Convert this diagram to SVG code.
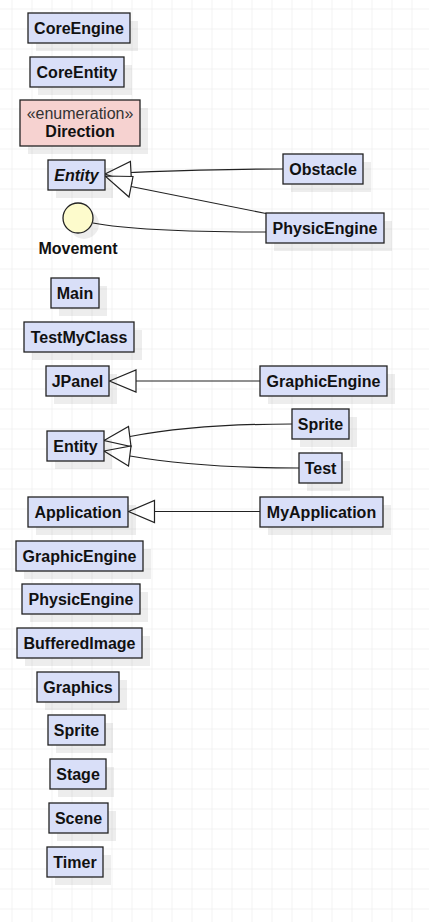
<svg xmlns="http://www.w3.org/2000/svg" width="429" height="922" viewBox="0 0 429 922">
<defs>
<pattern id="grid" x="11.5" y="8.5" width="20" height="20" patternUnits="userSpaceOnUse">
<path d="M0,0 H20 M0,0 V20" fill="none" stroke="#e8e8e8" stroke-width="1"/>
</pattern>
</defs>
<style>
.box{fill:#d9dff8;stroke:#222;stroke-width:1.3}
.enum{fill:#f6d2d0;stroke:#222;stroke-width:1.3}
.sh{fill:#000;fill-opacity:0.07;stroke:none}
.t{font-family:"Liberation Sans",Arial,sans-serif;font-size:16px;font-weight:bold;fill:#111;text-anchor:middle}
.st{font-family:"Liberation Sans",Arial,sans-serif;font-size:16px;fill:#333;text-anchor:middle}
.edge{fill:none;stroke:#222;stroke-width:1.2}
.head{fill:#fff;stroke:#222;stroke-width:1.2;stroke-linejoin:miter}
</style>
<rect width="429" height="922" fill="#fff"/>
<rect width="429" height="922" fill="url(#grid)"/>

<g id="connectors">
<path class="edge" d="M283,169 C220,169 170,171 131,172.5"/>
<path class="edge" d="M266,213.5 L131,186.5"/>
<path class="edge" d="M93,223 C130,230 200,232 266,232"/>
<path class="edge" d="M260,381 H136"/>
<path class="edge" d="M292,424 C230,424 170,429 130,436.5"/>
<path class="edge" d="M299,468 C230,468 170,463 130,456"/>
<path class="edge" d="M260,511.5 H154.5"/>
<polygon class="head" points="105,174 130.4,161.5 131.6,183.5"/>
<polygon class="head" points="105,176 133,176.5 129,197"/>
<polygon class="head" points="109.5,381 136,370 136,392"/>
<polygon class="head" points="104,440.5 128.5,426.5 131,446.5"/>
<polygon class="head" points="104,451 131,446 128.5,466"/>
<polygon class="head" points="128.5,511.5 154.5,500.5 154.5,522.5"/>
</g>

<g id="CoreEngine"><rect class="sh" x="36" y="21" width="102" height="30"/><rect class="box" x="28" y="13" width="102" height="30"/><text class="t" x="79" y="33.5">CoreEngine</text></g>
<g id="CoreEntity"><rect class="sh" x="38" y="65" width="94" height="30"/><rect class="box" x="30" y="57" width="94" height="30"/><text class="t" x="77" y="77.5">CoreEntity</text></g>
<g id="Direction"><rect class="sh" x="28" y="108" width="120" height="46"/><rect class="enum" x="20" y="100" width="120" height="46"/><text class="st" x="80" y="119">«enumeration»</text><text class="t" x="80" y="137">Direction</text></g>
<g id="Entity1"><rect class="sh" x="56" y="168" width="57" height="30"/><rect class="box" x="48" y="160" width="57" height="30"/><text class="t" x="76.5" y="180.5" font-style="italic">Entity</text></g>
<g id="Obstacle"><rect class="sh" x="291" y="162" width="80" height="30"/><rect class="box" x="283" y="154" width="80" height="30"/><text class="t" x="323" y="174.5">Obstacle</text></g>
<g id="PhysicEngine1"><rect class="sh" x="274" y="221" width="118" height="30"/><rect class="box" x="266" y="213" width="118" height="30"/><text class="t" x="325" y="233.5">PhysicEngine</text></g>
<g id="Movement"><circle class="sh" cx="84" cy="224" r="15"/><circle cx="78" cy="218" r="15" fill="#fdfbcc" stroke="#222" stroke-width="1.3"/><text class="t" x="78" y="253.5">Movement</text></g>
<g id="Main"><rect class="sh" x="59" y="286" width="48" height="30"/><rect class="box" x="51" y="278" width="48" height="30"/><text class="t" x="75" y="298.5">Main</text></g>
<g id="TestMyClass"><rect class="sh" x="32" y="330" width="110" height="30"/><rect class="box" x="24" y="322" width="110" height="30"/><text class="t" x="79" y="342.5">TestMyClass</text></g>
<g id="JPanel"><rect class="sh" x="54" y="374" width="63" height="30"/><rect class="box" x="46" y="366" width="63" height="30"/><text class="t" x="77.5" y="386.5">JPanel</text></g>
<g id="GraphicEngine1"><rect class="sh" x="268" y="374" width="127" height="30"/><rect class="box" x="260" y="366" width="127" height="30"/><text class="t" x="323.5" y="386.5">GraphicEngine</text></g>
<g id="Entity2"><rect class="sh" x="55" y="439" width="57" height="30"/><rect class="box" x="47" y="431" width="57" height="30"/><text class="t" x="75.5" y="451.5">Entity</text></g>
<g id="Sprite1"><rect class="sh" x="300" y="417" width="57" height="30"/><rect class="box" x="292" y="409" width="57" height="30"/><text class="t" x="320.5" y="429.5">Sprite</text></g>
<g id="Test"><rect class="sh" x="307" y="461" width="43" height="30"/><rect class="box" x="299" y="453" width="43" height="30"/><text class="t" x="320.5" y="473.5">Test</text></g>
<g id="Application"><rect class="sh" x="36" y="505" width="100" height="30"/><rect class="box" x="28" y="497" width="100" height="30"/><text class="t" x="78" y="517.5">Application</text></g>
<g id="MyApplication"><rect class="sh" x="268" y="505" width="123" height="30"/><rect class="box" x="260" y="497" width="123" height="30"/><text class="t" x="321.5" y="517.5">MyApplication</text></g>
<g id="GraphicEngine2"><rect class="sh" x="24" y="549" width="127" height="30"/><rect class="box" x="16" y="541" width="127" height="30"/><text class="t" x="79.5" y="561.5">GraphicEngine</text></g>
<g id="PhysicEngine2"><rect class="sh" x="30" y="592" width="118" height="30"/><rect class="box" x="22" y="584" width="118" height="30"/><text class="t" x="81" y="604.5">PhysicEngine</text></g>
<g id="BufferedImage"><rect class="sh" x="25" y="636" width="125" height="30"/><rect class="box" x="17" y="628" width="125" height="30"/><text class="t" x="79.5" y="648.5">BufferedImage</text></g>
<g id="Graphics"><rect class="sh" x="45" y="680" width="82" height="30"/><rect class="box" x="37" y="672" width="82" height="30"/><text class="t" x="78" y="692.5">Graphics</text></g>
<g id="Sprite2"><rect class="sh" x="56" y="723" width="57" height="30"/><rect class="box" x="48" y="715" width="57" height="30"/><text class="t" x="76.5" y="735.5">Sprite</text></g>
<g id="Stage"><rect class="sh" x="58" y="767" width="56" height="30"/><rect class="box" x="50" y="759" width="56" height="30"/><text class="t" x="78" y="779.5">Stage</text></g>
<g id="Scene"><rect class="sh" x="57" y="811" width="59" height="30"/><rect class="box" x="49" y="803" width="59" height="30"/><text class="t" x="78.5" y="823.5">Scene</text></g>
<g id="Timer"><rect class="sh" x="55" y="855" width="56" height="30"/><rect class="box" x="47" y="847" width="56" height="30"/><text class="t" x="75" y="867.5">Timer</text></g>
</svg>
